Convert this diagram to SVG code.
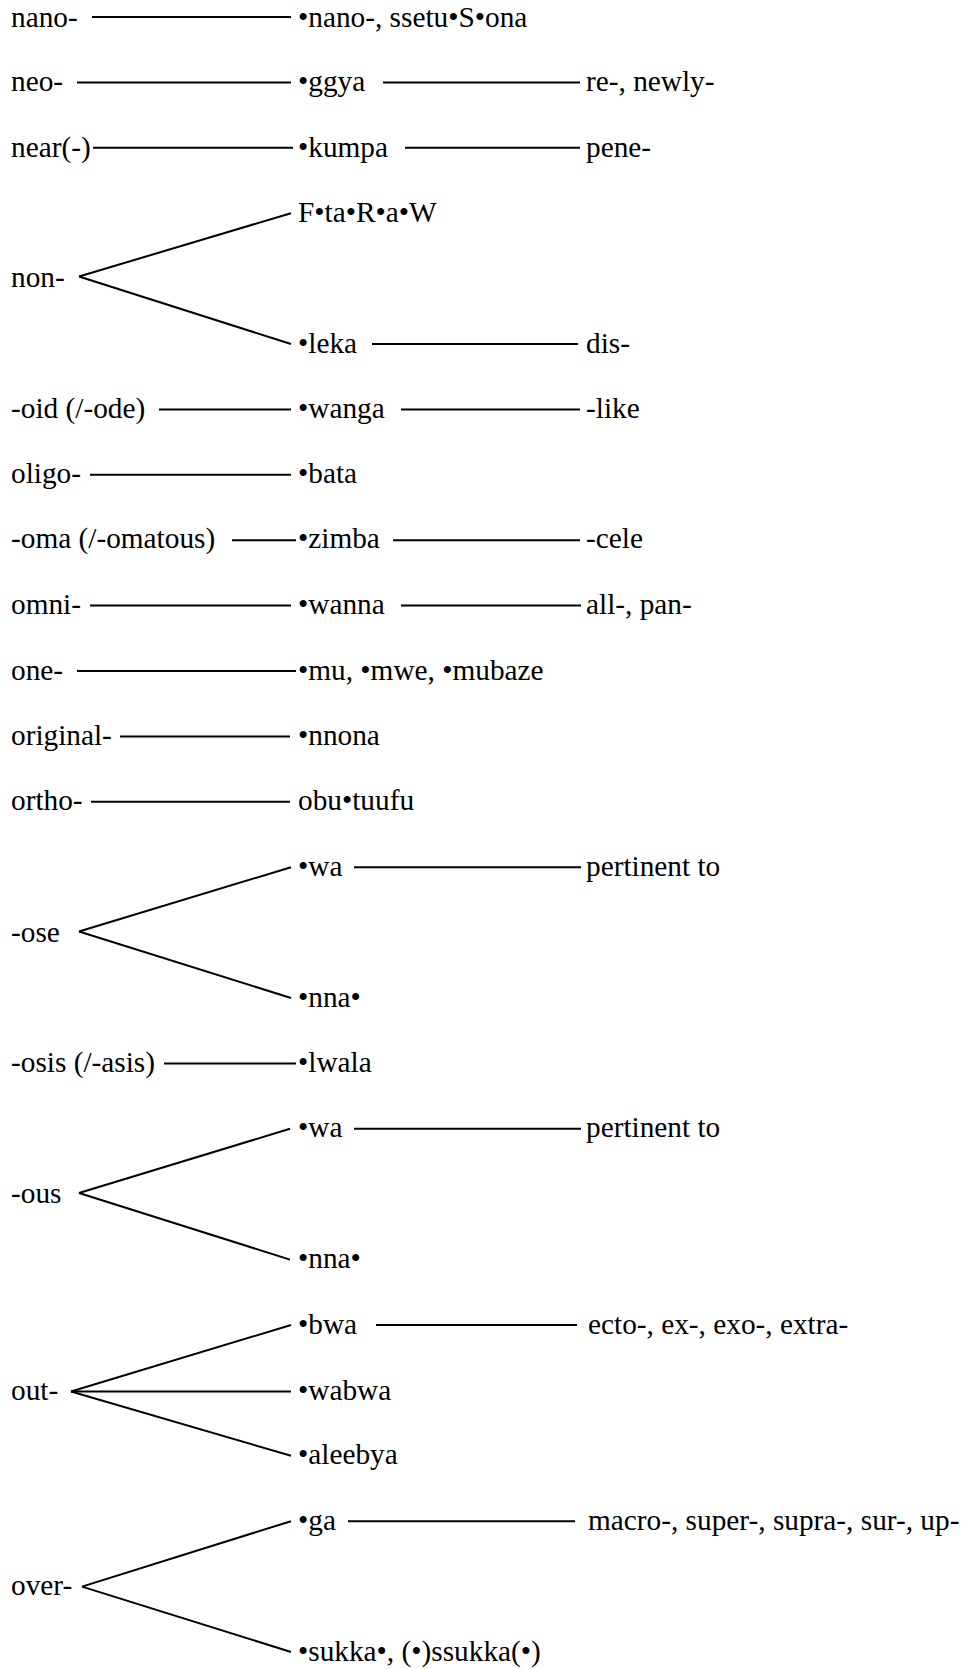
<svg xmlns="http://www.w3.org/2000/svg" width="965" height="1669" viewBox="0 0 965 1669">
<style>
text{font-family:"Liberation Serif","Times New Roman",serif;font-size:29.3px;fill:#000}
.c line{stroke:#000;stroke-width:2;fill:none}
</style>
<rect width="965" height="1669" fill="#fff"/>
<g class="c" id="connectors">
<line x1="92" y1="17" x2="291" y2="17"/>
<line x1="77" y1="82.4" x2="291" y2="82.4"/>
<line x1="383" y1="82.4" x2="580" y2="82.4"/>
<line x1="93" y1="147.8" x2="293" y2="147.8"/>
<line x1="405" y1="147.8" x2="580" y2="147.8"/>
<line x1="79" y1="276.5" x2="291" y2="213.2"/>
<line x1="79" y1="276.5" x2="291" y2="344"/>
<line x1="372" y1="344" x2="578" y2="344"/>
<line x1="159" y1="409.4" x2="291" y2="409.4"/>
<line x1="401" y1="409.4" x2="580" y2="409.4"/>
<line x1="90" y1="474.8" x2="291" y2="474.8"/>
<line x1="232" y1="540.2" x2="296" y2="540.2"/>
<line x1="393" y1="540.2" x2="580" y2="540.2"/>
<line x1="90" y1="605.6" x2="291" y2="605.6"/>
<line x1="401" y1="605.6" x2="581" y2="605.6"/>
<line x1="77" y1="671" x2="296" y2="671"/>
<line x1="120" y1="736.4" x2="290" y2="736.4"/>
<line x1="91" y1="801.8" x2="290" y2="801.8"/>
<line x1="79" y1="931.5" x2="291" y2="867.2"/>
<line x1="79" y1="931.5" x2="291" y2="998"/>
<line x1="354" y1="867.2" x2="581" y2="867.2"/>
<line x1="164" y1="1063.4" x2="296" y2="1063.4"/>
<line x1="79" y1="1193" x2="290" y2="1128.8"/>
<line x1="79" y1="1193" x2="290" y2="1259.6"/>
<line x1="354" y1="1128.8" x2="581" y2="1128.8"/>
<line x1="71" y1="1391.5" x2="291" y2="1325"/>
<line x1="71" y1="1391.5" x2="291" y2="1391.5"/>
<line x1="71" y1="1391.5" x2="291" y2="1455.8"/>
<line x1="376" y1="1325" x2="577" y2="1325"/>
<line x1="82" y1="1586.6" x2="291" y2="1521.2"/>
<line x1="82" y1="1586.6" x2="291" y2="1652"/>
<line x1="348" y1="1521.2" x2="575" y2="1521.2"/>
</g>
<g id="n-nano"><text x="11" y="26.5">nano-</text></g>
<g id="n-nano-lg"><text x="298" y="26.5">•nano-, ssetu•S•ona</text></g>
<g id="n-neo"><text x="11" y="91.4">neo-</text></g>
<g id="n-ggya"><text x="298" y="91.4">•ggya</text></g>
<g id="n-re"><text x="586" y="91.4">re-, newly-</text></g>
<g id="n-near"><text x="11" y="156.8">near(-)</text></g>
<g id="n-kumpa"><text x="298" y="156.8">•kumpa</text></g>
<g id="n-pene"><text x="586" y="156.8">pene-</text></g>
<g id="n-ftaraw"><text x="298" y="222.2">F•ta•R•a•W</text></g>
<g id="n-non"><text x="11" y="287">non-</text></g>
<g id="n-leka"><text x="298" y="352.5">•leka</text></g>
<g id="n-dis"><text x="586" y="352.5">dis-</text></g>
<g id="n-oid"><text x="11" y="418">-oid (/-ode)</text></g>
<g id="n-wanga"><text x="298" y="418">•wanga</text></g>
<g id="n-like"><text x="586" y="418">-like</text></g>
<g id="n-oligo"><text x="11" y="483.4">oligo-</text></g>
<g id="n-bata"><text x="298" y="483.4">•bata</text></g>
<g id="n-oma"><text x="11" y="548">-oma (/-omatous)</text></g>
<g id="n-zimba"><text x="298" y="548">•zimba</text></g>
<g id="n-cele"><text x="586" y="548">-cele</text></g>
<g id="n-omni"><text x="11" y="614">omni-</text></g>
<g id="n-wanna"><text x="298" y="614">•wanna</text></g>
<g id="n-allpan"><text x="586" y="614">all-, pan-</text></g>
<g id="n-one"><text x="11" y="679.5">one-</text></g>
<g id="n-mu"><text x="298" y="679.5">•mu, •mwe, •mubaze</text></g>
<g id="n-original"><text x="11" y="745">original-</text></g>
<g id="n-nnona"><text x="298" y="745">•nnona</text></g>
<g id="n-ortho"><text x="11" y="810.3">ortho-</text></g>
<g id="n-obutuufu"><text x="298" y="810.3">obu•tuufu</text></g>
<g id="n-wa1"><text x="298" y="875.7">•wa</text></g>
<g id="n-pert1"><text x="586" y="875.7">pertinent to</text></g>
<g id="n-ose"><text x="11" y="941.5">-ose</text></g>
<g id="n-nna1"><text x="298" y="1006.5">•nna•</text></g>
<g id="n-osis"><text x="11" y="1071.8">-osis (/-asis)</text></g>
<g id="n-lwala"><text x="298" y="1071.8">•lwala</text></g>
<g id="n-wa2"><text x="298" y="1137.3">•wa</text></g>
<g id="n-pert2"><text x="586" y="1137.3">pertinent to</text></g>
<g id="n-ous"><text x="11" y="1202.7">-ous</text></g>
<g id="n-nna2"><text x="298" y="1268">•nna•</text></g>
<g id="n-bwa"><text x="298" y="1333.5">•bwa</text></g>
<g id="n-ecto"><text x="588" y="1333.5">ecto-, ex-, exo-, extra-</text></g>
<g id="n-out"><text x="11" y="1400">out-</text></g>
<g id="n-wabwa"><text x="298" y="1400">•wabwa</text></g>
<g id="n-aleebya"><text x="298" y="1464.3">•aleebya</text></g>
<g id="n-ga"><text x="298" y="1529.7">•ga</text></g>
<g id="n-macro"><text x="588" y="1529.7">macro-, super-, supra-, sur-, up-</text></g>
<g id="n-over"><text x="11" y="1595">over-</text></g>
<g id="n-sukka"><text x="298" y="1660.5">•sukka•, (•)ssukka(•)</text></g>
</svg>
